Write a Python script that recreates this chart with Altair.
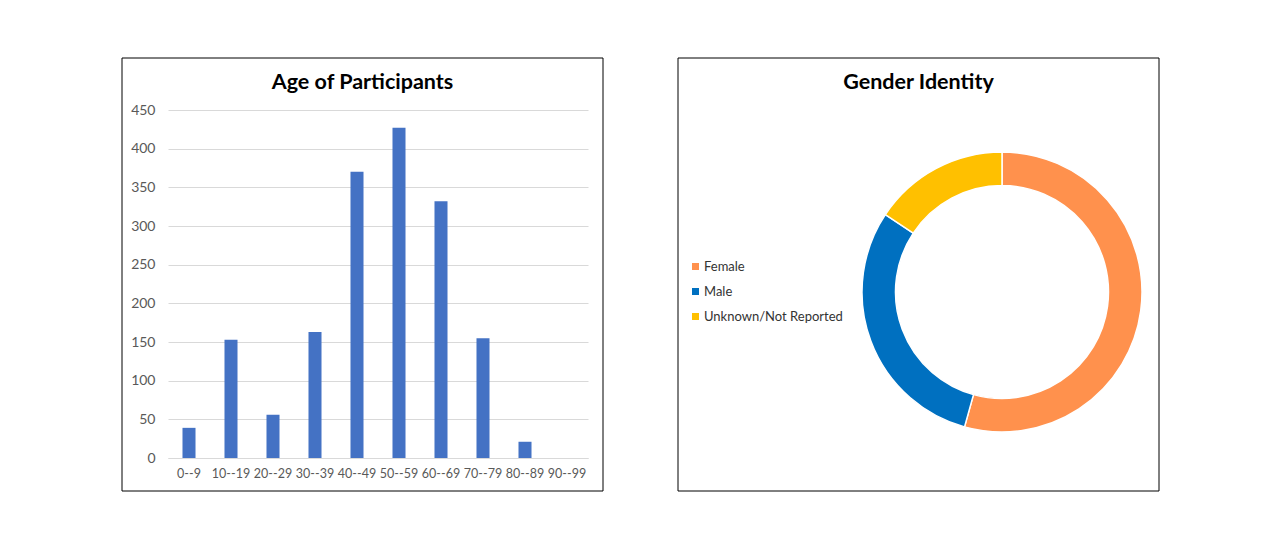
import altair as alt
import pandas as pd

age_groups = ["0--9", "10--19", "20--29", "30--39", "40--49", "50--59", "60--69", "70--79", "80--89", "90--99"]
age_counts = [39, 153, 56, 163, 370, 427, 332, 155, 21, 0]
y_ticks = [0, 50, 100, 150, 200, 250, 300, 350, 400, 450]

genders = ["Female", "Male", "Unknown/Not Reported"]
gender_counts = [932, 515, 269]
gender_colors = ["#FF914D", "#0070C0", "#FFC000"]

bar_df = pd.DataFrame({"age": age_groups, "count": age_counts})
pie_df = pd.DataFrame({"gender": genders, "count": gender_counts})
one = pd.DataFrame({"k": [0]})

FONT = "Lato"

# ---- left panel ----
bars = alt.Chart(bar_df).mark_bar(color="#4472C4").encode(
    x=alt.X("age:N", sort=age_groups,
            scale=alt.Scale(paddingInner=0.69, paddingOuter=0.345),
            axis=alt.Axis(title=None, labelAngle=0, ticks=False, domainColor="#D9D9D9",
                          labelColor="#595959", labelFontSize=12.5, labelPadding=9,
                          labelFont=FONT, grid=False)),
    y=alt.Y("count:Q", scale=alt.Scale(domain=[0, 450], nice=False),
            axis=alt.Axis(title=None, values=y_ticks, ticks=False, domain=False,
                          gridColor="#D9D9D9", labelColor="#595959", labelFontSize=14,
                          labelPadding=13, labelFont=FONT)),
)
border_left = alt.Chart(one).mark_rect(fill="white", fillOpacity=0, stroke="black", strokeWidth=1).encode(
    x=alt.value(-46), x2=alt.value(435), y=alt.value(-52), y2=alt.value(381))
title_left = alt.Chart(one).mark_text(text="Age of Participants", font=FONT, fontSize=21.5,
                                      fontWeight="bold", color="black", align="center",
                                      baseline="alphabetic").encode(
    x=alt.value(194.5), y=alt.value(-21))
left = alt.layer(border_left, bars, title_left).properties(width=420, height=348)

# ---- right panel ----
donut = alt.Chart(pie_df).mark_arc(outerRadius=140, innerRadius=106.5, stroke="white", strokeWidth=1.5).encode(
    theta=alt.Theta("count:Q", stack=True),
    color=alt.Color("gender:N", sort=genders,
                    scale=alt.Scale(domain=genders, range=gender_colors),
                    legend=alt.Legend(title=None, orient="none", legendX=-173, legendY=150,
                                      symbolType="square", symbolSize=49, symbolStrokeWidth=0,
                                      labelFontSize=13, labelColor="#333333", labelFont=FONT,
                                      rowPadding=11, labelOffset=2, padding=0)),
    order=alt.Order("gender:N"),
)
border_right = alt.Chart(one).mark_rect(fill="white", fillOpacity=0, stroke="black", strokeWidth=1).encode(
    x=alt.value(-184), x2=alt.value(297), y=alt.value(-52), y2=alt.value(381))
title_right = alt.Chart(one).mark_text(text="Gender Identity", font=FONT, fontSize=21.5,
                                       fontWeight="bold", color="black", align="center",
                                       baseline="alphabetic").encode(
    x=alt.value(56.5), y=alt.value(-21))
right = alt.layer(border_right, donut, title_right).properties(width=280, height=364)

chart = alt.hconcat(left, right, spacing=274, bounds="flush").resolve_legend(
    color="independent"
).properties(
    padding={"left": 113, "top": 49, "right": 5, "bottom": 5}
).configure(font=FONT).configure_view(strokeOpacity=0, strokeWidth=0)

chart.save("out.html", embed_options={"renderer": "svg", "actions": False})
